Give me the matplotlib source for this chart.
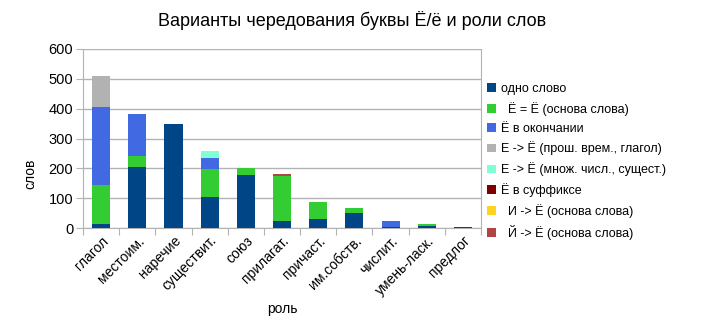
import matplotlib.pyplot as plt
import numpy as np

plt.rcParams['font.family'] = ['Liberation Sans', 'DejaVu Sans']

roles = ["глагол", "местоим.", "наречие", "существит.", "союз", "прилагат.",
         "причаст.", "им.собств.", "числит.", "умень-ласк.", "предлог"]

series_names = ["одно слово", "  Ё = Ё (основа слова)", "Ё в окончании",
                "Е -> Ё (прош. врем., глагол)", "Е -> Ё (множ. числ., сущест.)",
                "Ё в суффиксе", "  И -> Ё (основа слова)", "  Й -> Ё (основа слова)"]

odno_slovo = [12, 205, 347, 103, 178, 23, 29, 50, 4, 6, 3]
osnova_e = [133, 38, 3, 95, 22, 152, 58, 18, 0, 8, 0]
okonchanie = [259, 140, 0, 36, 0, 0, 0, 0, 19, 0, 1]
prosh_vrem = [105, 0, 0, 0, 0, 0, 0, 0, 0, 0, 0]
mnozh_chisl = [0, 0, 0, 24, 0, 0, 0, 0, 0, 0, 0]
suffiks = [0, 0, 0, 0, 0, 0, 0, 0, 0, 0, 0]
i_osnova = [2, 0, 0, 0, 0, 0, 0, 0, 0, 0, 0]
j_osnova = [0, 0, 0, 0, 0, 6, 0, 0, 0, 0, 0]

series = [odno_slovo, osnova_e, okonchanie, prosh_vrem, mnozh_chisl,
          suffiks, i_osnova, j_osnova]
colors = ["#004586", "#33cc33", "#4169e1", "#b2b2b2", "#7fffd4",
          "#800000", "#ffd320", "#b04545"]

fig = plt.figure(figsize=(7.05, 3.3), dpi=100)
ax = fig.add_axes([83 / 705, 1 - 228 / 330, (481 - 83) / 705, (228 - 49) / 330])

x = np.arange(len(roles))
bottom = np.zeros(len(roles))
for vals, name, c in zip(series, series_names, colors):
    ax.bar(x, vals, 0.5, bottom=bottom, color=c, label=name, zorder=3)
    bottom += np.array(vals)

ax.set_xlim(-0.5, len(roles) - 0.5)
ax.set_ylim(0, 600)
ax.set_yticks(range(0, 601, 100))
ax.set_xticks(np.arange(len(roles) + 1) - 0.5, minor=False)
ax.set_xticklabels([])
ax.set_xticks(x, minor=True)
ax.set_xticklabels(roles, minor=True, rotation=45, ha='right',
                   rotation_mode='anchor', fontsize=10)
ax.tick_params(axis='x', which='minor', length=0, pad=4)
ax.tick_params(axis='x', which='major', length=5, color='#b3b3b3')
ax.tick_params(axis='y', length=5, color='#b3b3b3', labelsize=10.5, pad=2)
ax.grid(axis='y', color='#b3b3b3', linewidth=1, zorder=0)
for s in ax.spines.values():
    s.set_color('#b3b3b3')
ax.spines['top'].set_visible(False)

ax.set_xlabel("роль", fontsize=10, labelpad=3)
ax.set_ylabel("слов", fontsize=10)
ax.yaxis.set_label_coords(-0.115, 0.3)
fig.suptitle("Варианты чередования буквы Ё/ё и роли слов",
             x=0.5, y=1 - 20 / 330, va='center', fontsize=13)

ax.legend(loc='upper left', bbox_to_anchor=(487 / 705, 1 - 83 / 330),
          bbox_transform=fig.transFigure, frameon=False, fontsize=9,
          handlelength=0.7, handleheight=0.7, handletextpad=0.4,
          labelspacing=0.55, borderpad=0, borderaxespad=0)

fig.savefig("out.png", dpi=100)
